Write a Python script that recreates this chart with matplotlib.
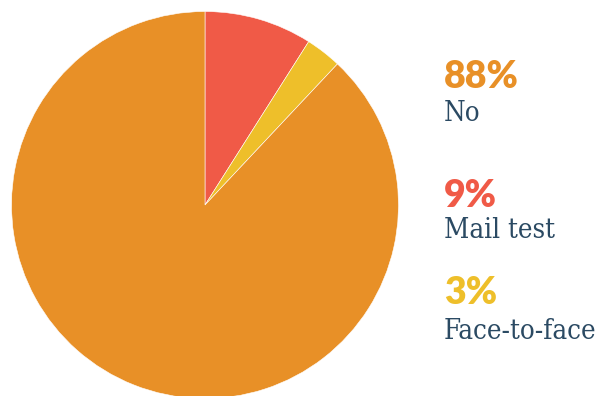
import matplotlib.pyplot as plt

labels = ['No', 'Mail test', 'Face-to-face']
values = [88, 9, 3]
colors = ['#E89027', '#F05A47', '#EEBF2A']

W, H = 601, 396
fig = plt.figure(figsize=(W / 100, H / 100), dpi=100)

# pie centre at (205, 205) px, radius ~193.5 px
cx, cy, r = 205, 205, 193.5
ax = fig.add_axes([(cx - r) / W, (H - cy - r) / H, 2 * r / W, 2 * r / H])

# red and yellow go clockwise from 12 o'clock, orange takes the rest
order = [1, 2, 0]
ax.pie([values[i] for i in order], colors=[colors[i] for i in order],
       startangle=90, counterclock=False,
       wedgeprops=dict(edgecolor='white', linewidth=0.4))
ax.set_xlim(-1, 1)
ax.set_ylim(-1, 1)
ax.axis('off')

# legend text on the right, baselines in px from top
pct_y = [88, 207, 304]
lab_y = [121, 238, 339]
x0 = 444
for i in range(len(labels)):
    fig.text(x0 / W, 1 - pct_y[i] / H, f'{values[i]}%', color=colors[i],
             fontsize=27, fontweight='heavy', family='Lato', va='baseline')
    fig.text(x0 / W, 1 - lab_y[i] / H, labels[i], color='#2B4A63',
             fontsize=19.8, family='DejaVu Serif', fontstretch='condensed',
             va='baseline')

fig.savefig('out.png', dpi=100)
